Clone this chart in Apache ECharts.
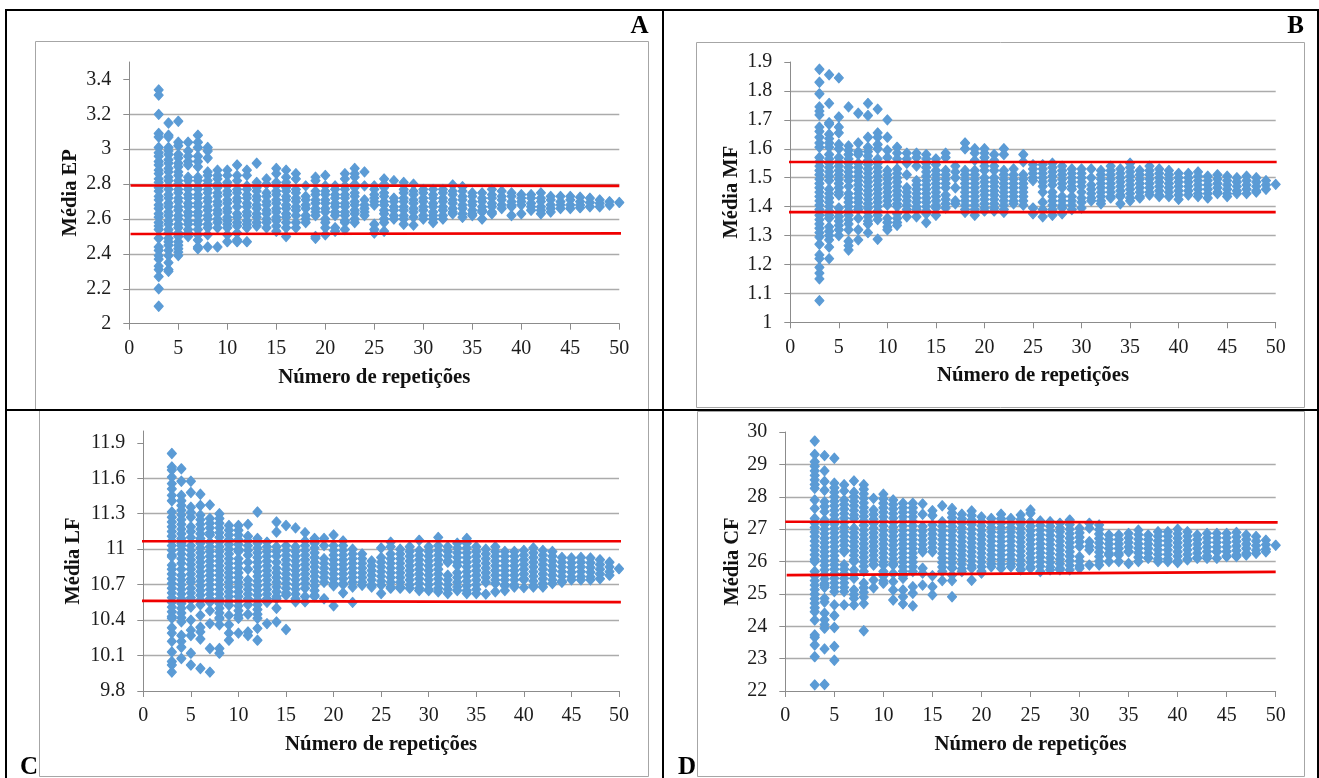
<!DOCTYPE html>
<html><head><meta charset="utf-8">
<script src="https://cdn.jsdelivr.net/npm/echarts@6/dist/echarts.min.js"></script>
<style>html,body{margin:0;padding:0;background:#fff}#c{width:1319px;height:778px}</style>
</head><body><div id="c"></div>
<script>
// Each row: repetition count, then the mean values read at that count.
const mediaEP = [
[3,3.34,3.31,3.2,3.09,3.07,3.01,2.98,2.96,2.93,2.91,2.88,2.86,2.83,2.81,2.78,2.76,2.73,2.71,2.68,2.66,2.63,2.61,2.58,2.56,2.54,2.49,2.44,2.42,2.39,2.37,2.33,2.31,2.27,2.2,2.1],
[4,3.15,3.08,3.07,3.01,2.99,2.97,2.94,2.92,2.89,2.87,2.84,2.82,2.79,2.77,2.74,2.72,2.69,2.67,2.64,2.62,2.59,2.57,2.54,2.52,2.49,2.47,2.45,2.42,2.39,2.35,2.31,2.3],
[5,3.16,3.04,3.02,2.97,2.95,2.92,2.9,2.87,2.85,2.82,2.8,2.77,2.75,2.72,2.7,2.67,2.65,2.62,2.6,2.57,2.55,2.52,2.5,2.47,2.45,2.43,2.41,2.39],
[6,3.04,2.99,2.96,2.93,2.91,2.84,2.82,2.79,2.77,2.74,2.72,2.69,2.67,2.64,2.62,2.59,2.57,2.54,2.52,2.5],
[7,3.08,3.04,3.01,2.96,2.93,2.9,2.84,2.82,2.79,2.77,2.74,2.72,2.69,2.67,2.64,2.62,2.59,2.57,2.54,2.51,2.48,2.44,2.43],
[8,3.01,2.99,2.95,2.87,2.85,2.82,2.8,2.77,2.75,2.72,2.7,2.67,2.65,2.62,2.6,2.57,2.55,2.51,2.44],
[9,2.88,2.85,2.83,2.8,2.78,2.75,2.73,2.7,2.68,2.65,2.63,2.6,2.58,2.55,2.44],
[10,2.88,2.85,2.81,2.79,2.76,2.74,2.71,2.69,2.66,2.64,2.61,2.59,2.57,2.55,2.51,2.47],
[11,2.91,2.85,2.82,2.77,2.75,2.72,2.7,2.67,2.63,2.61,2.58,2.56,2.52,2.48,2.47],
[12,2.88,2.85,2.79,2.77,2.74,2.72,2.69,2.67,2.64,2.62,2.59,2.57,2.55,2.47],
[13,2.92,2.81,2.78,2.76,2.73,2.71,2.68,2.66,2.63,2.61,2.58,2.56],
[14,2.83,2.8,2.75,2.73,2.7,2.68,2.65,2.63,2.6,2.58,2.55],
[15,2.89,2.86,2.81,2.79,2.76,2.74,2.71,2.69,2.66,2.64,2.61,2.59,2.56,2.53],
[16,2.88,2.84,2.81,2.78,2.76,2.73,2.71,2.68,2.66,2.63,2.61,2.58,2.55,2.5],
[17,2.86,2.83,2.77,2.75,2.72,2.7,2.67,2.65,2.62,2.58,2.55],
[18,2.79,2.73,2.71,2.68,2.66,2.62,2.6,2.58],
[19,2.84,2.82,2.76,2.74,2.71,2.69,2.66,2.64,2.62,2.5,2.49],
[20,2.85,2.79,2.76,2.74,2.71,2.69,2.66,2.64,2.6,2.58,2.55,2.51],
[21,2.79,2.77,2.74,2.72,2.69,2.67,2.64,2.62,2.55,2.53],
[22,2.86,2.83,2.79,2.77,2.74,2.72,2.69,2.67,2.64,2.62,2.59,2.58,2.54],
[23,2.89,2.86,2.84,2.8,2.78,2.75,2.73,2.7,2.68,2.65,2.63,2.6,2.58],
[24,2.87,2.79,2.71,2.68,2.66,2.64,2.62],
[25,2.79,2.77,2.74,2.72,2.7,2.68,2.57,2.54,2.52],
[26,2.83,2.8,2.78,2.75,2.73,2.7,2.68,2.65,2.63,2.6,2.58,2.53],
[27,2.82,2.72,2.7,2.67,2.65,2.62,2.6],
[28,2.81,2.77,2.75,2.72,2.7,2.67,2.65,2.62,2.6,2.57],
[29,2.8,2.76,2.74,2.71,2.69,2.66,2.64,2.61,2.565],
[30,2.77,2.75,2.72,2.7,2.67,2.65,2.62,2.6],
[31,2.77,2.74,2.72,2.69,2.67,2.64,2.62,2.6,2.58],
[32,2.77,2.75,2.72,2.7,2.67,2.65,2.62,2.6],
[33,2.795,2.76,2.74,2.71,2.69,2.66,2.64,2.63],
[34,2.785,2.76,2.73,2.71,2.68,2.66,2.63,2.61],
[35,2.75,2.73,2.7,2.68,2.65,2.63,2.62],
[36,2.75,2.72,2.7,2.67,2.65,2.64,2.6],
[37,2.77,2.74,2.72,2.69,2.67,2.64,2.63],
[38,2.76,2.73,2.71,2.68,2.66],
[39,2.75,2.73,2.7,2.68,2.67,2.62],
[40,2.74,2.72,2.7,2.68,2.63],
[41,2.74,2.72,2.69,2.67,2.65],
[42,2.75,2.72,2.7,2.67,2.65,2.63],
[43,2.73,2.71,2.68,2.66,2.64],
[44,2.73,2.7,2.68,2.66],
[45,2.73,2.71,2.68,2.66],
[46,2.725,2.7,2.68,2.665],
[47,2.72,2.695,2.67],
[48,2.71,2.69,2.67],
[49,2.7,2.68],
[50,2.695]];

const mediaMF = [
[3,1.875,1.83,1.79,1.745,1.73,1.717,1.675,1.66,1.64,1.62,1.605,1.57,1.555,1.54,1.525,1.51,1.495,1.48,1.465,1.45,1.435,1.42,1.405,1.39,1.37,1.355,1.34,1.325,1.31,1.295,1.27,1.233,1.22,1.19,1.17,1.15,1.075],
[4,1.856,1.757,1.69,1.685,1.65,1.635,1.62,1.605,1.58,1.565,1.55,1.535,1.52,1.505,1.49,1.46,1.445,1.43,1.415,1.4,1.385,1.37,1.36,1.33,1.315,1.3,1.285,1.26,1.22],
[5,1.845,1.71,1.675,1.655,1.615,1.6,1.57,1.555,1.54,1.525,1.51,1.495,1.48,1.465,1.45,1.44,1.395,1.38,1.365,1.35,1.335,1.32,1.3],
[6,1.745,1.61,1.595,1.58,1.565,1.55,1.535,1.52,1.505,1.49,1.47,1.445,1.43,1.415,1.4,1.385,1.37,1.355,1.34,1.32,1.28,1.265,1.25],
[7,1.723,1.62,1.59,1.58,1.55,1.535,1.52,1.505,1.49,1.475,1.46,1.445,1.43,1.415,1.4,1.39,1.36,1.32,1.285],
[8,1.757,1.715,1.64,1.605,1.59,1.575,1.56,1.545,1.53,1.515,1.5,1.485,1.47,1.455,1.44,1.425,1.41,1.395,1.38,1.365,1.35,1.34,1.31],
[9,1.737,1.655,1.64,1.615,1.6,1.565,1.55,1.535,1.52,1.505,1.49,1.475,1.46,1.445,1.43,1.415,1.4,1.385,1.37,1.355,1.287],
[10,1.7,1.64,1.595,1.57,1.525,1.51,1.495,1.48,1.465,1.45,1.435,1.42,1.405,1.36,1.345,1.33,1.32],
[11,1.605,1.585,1.565,1.53,1.515,1.5,1.485,1.47,1.455,1.44,1.425,1.41,1.4,1.375,1.36,1.345,1.335],
[12,1.585,1.565,1.55,1.51,1.465,1.45,1.435,1.42,1.405,1.39,1.365],
[13,1.585,1.57,1.54,1.49,1.475,1.46,1.445,1.43,1.415,1.4,1.39,1.365],
[14,1.58,1.565,1.55,1.535,1.52,1.505,1.49,1.475,1.46,1.445,1.43,1.415,1.4,1.385,1.375,1.345],
[15,1.565,1.545,1.525,1.51,1.495,1.48,1.465,1.45,1.435,1.42,1.405,1.395,1.37],
[16,1.585,1.57,1.525,1.51,1.495,1.48,1.465,1.44,1.425,1.41,1.395],
[17,1.54,1.52,1.5,1.465,1.42,1.41],
[18,1.62,1.6,1.525,1.51,1.495,1.48,1.465,1.45,1.435,1.42,1.405,1.39,1.38],
[19,1.6,1.585,1.56,1.525,1.51,1.495,1.48,1.465,1.45,1.435,1.42,1.405,1.39,1.37],
[20,1.6,1.585,1.57,1.555,1.54,1.525,1.5,1.485,1.47,1.455,1.44,1.425,1.41,1.395,1.385],
[21,1.58,1.56,1.54,1.525,1.5,1.485,1.47,1.455,1.44,1.425,1.41,1.395,1.385],
[22,1.6,1.58,1.525,1.51,1.495,1.48,1.465,1.45,1.435,1.42,1.405,1.39,1.38],
[23,1.53,1.51,1.495,1.48,1.465,1.45,1.435,1.42,1.41],
[24,1.58,1.555,1.51,1.495,1.48,1.465,1.45,1.435,1.42,1.405],
[25,1.545,1.53,1.515,1.5,1.49,1.395,1.375],
[26,1.545,1.53,1.515,1.5,1.485,1.47,1.45,1.415,1.39,1.365],
[27,1.55,1.535,1.52,1.505,1.49,1.475,1.45,1.435,1.42,1.405,1.39,1.37],
[28,1.54,1.525,1.51,1.495,1.48,1.465,1.435,1.42,1.405,1.395,1.375],
[29,1.53,1.515,1.5,1.485,1.47,1.46,1.435,1.42,1.405,1.39],
[30,1.53,1.515,1.5,1.485,1.47,1.45,1.43,1.415,1.395],
[31,1.53,1.5,1.475,1.46,1.445,1.43,1.42],
[32,1.525,1.51,1.495,1.48,1.465,1.45,1.435,1.42,1.41],
[33,1.54,1.525,1.51,1.495,1.48,1.465,1.45,1.435,1.43],
[34,1.53,1.515,1.5,1.485,1.47,1.455,1.44,1.435,1.41],
[35,1.55,1.535,1.52,1.505,1.49,1.475,1.46,1.445,1.43,1.42],
[36,1.525,1.51,1.495,1.48,1.465,1.45,1.435,1.43],
[37,1.54,1.525,1.51,1.495,1.48,1.465,1.45,1.44],
[38,1.53,1.515,1.5,1.485,1.47,1.455,1.44,1.435],
[39,1.525,1.51,1.495,1.48,1.465,1.45,1.435],
[40,1.515,1.5,1.485,1.47,1.455,1.44,1.425],
[41,1.515,1.5,1.485,1.47,1.455,1.44],
[42,1.52,1.505,1.49,1.475,1.46,1.445,1.435],
[43,1.505,1.49,1.475,1.46,1.445,1.43],
[44,1.51,1.495,1.48,1.465,1.45,1.445],
[45,1.505,1.49,1.475,1.46,1.445,1.435],
[46,1.5,1.485,1.47,1.455,1.445],
[47,1.505,1.49,1.475,1.46,1.445],
[48,1.5,1.485,1.47,1.455,1.45],
[49,1.49,1.475,1.46],
[50,1.477]];

const mediaLF = [
[3,11.81,11.695,11.67,11.61,11.555,11.51,11.455,11.41,11.315,11.27,11.23,11.19,11.15,11.11,11.07,11.03,10.99,10.95,10.935,10.865,10.83,10.79,10.75,10.71,10.67,10.63,10.59,10.55,10.51,10.47,10.43,10.415,10.335,10.29,10.22,10.13,10.05,10.02,9.96],
[4,11.68,11.575,11.455,11.41,11.37,11.33,11.29,11.25,11.21,11.17,11.13,11.09,11.05,11.03,11,10.96,10.92,10.88,10.83,10.78,10.74,10.7,10.66,10.62,10.58,10.54,10.5,10.46,10.42,10.385,10.27,10.22,10.17,10.075],
[5,11.575,11.48,11.355,11.31,11.27,11.19,11.15,11.1,11.03,10.99,10.95,10.91,10.87,10.83,10.79,10.75,10.72,10.67,10.63,10.59,10.57,10.51,10.4,10.315,10.27,10.12,10.02],
[6,11.465,11.37,11.29,11.25,11.21,11.17,11.13,11.09,11.05,11.01,10.97,10.93,10.89,10.85,10.81,10.77,10.73,10.69,10.65,10.61,10.57,10.53,10.44,10.34,10.3,10.24,9.99],
[7,11.375,11.26,11.22,11.18,11.14,11.12,11.06,11.02,10.98,10.94,10.9,10.86,10.82,10.78,10.74,10.7,10.66,10.62,10.58,10.55,10.48,10.37,10.16,9.96],
[8,11.3,11.26,11.22,11.18,11.14,11.1,11.06,11.02,10.98,10.94,10.9,10.86,10.82,10.78,10.74,10.7,10.66,10.62,10.58,10.54,10.5,10.46,10.42,10.41,10.36,10.16,10.12],
[9,11.2,11.16,11.12,11.08,11.04,11,10.96,10.92,10.88,10.84,10.8,10.76,10.72,10.68,10.64,10.6,10.56,10.525,10.44,10.36,10.29,10.23],
[10,11.2,11.16,11.12,11.08,11.04,11,10.98,10.92,10.88,10.84,10.8,10.76,10.72,10.68,10.64,10.6,10.56,10.52,10.48,10.44,10.415,10.29],
[11,11.21,11.11,11.07,11.03,10.99,10.95,10.89,10.83,10.74,10.7,10.66,10.62,10.58,10.53,10.45,10.3,10.27],
[12,11.315,11.09,11.05,11.01,10.97,10.93,10.89,10.85,10.81,10.77,10.73,10.69,10.65,10.61,10.57,10.53,10.49,10.45,10.415,10.33,10.23],
[13,11.06,11.02,10.98,10.94,10.9,10.86,10.82,10.78,10.74,10.7,10.66,10.62,10.58,10.55,10.37],
[14,11.23,11.145,11.02,10.98,10.94,10.89,10.84,10.8,10.76,10.72,10.68,10.64,10.6,10.58,10.5,10.385],
[15,11.2,11.03,10.99,10.95,10.91,10.87,10.83,10.79,10.75,10.71,10.67,10.63,10.61,10.32],
[16,11.18,11.02,10.98,10.94,10.9,10.86,10.82,10.78,10.74,10.7,10.66,10.62,10.58,10.555],
[17,11.14,11.07,11.03,10.99,10.95,10.91,10.87,10.83,10.79,10.75,10.71,10.67,10.6,10.555],
[18,11.09,11.05,11.01,10.97,10.93,10.89,10.85,10.81,10.77,10.73,10.69,10.65,10.61,10.6],
[19,11.09,11.03,10.92,10.88,10.84,10.8,10.76,10.72,10.58],
[20,11.12,11.03,10.99,10.95,10.91,10.87,10.83,10.79,10.75,10.71,10.69,10.52],
[21,11.07,11.03,10.99,10.95,10.91,10.87,10.83,10.79,10.75,10.71,10.7,10.63],
[22,11,10.96,10.92,10.88,10.84,10.8,10.76,10.72,10.68,10.55],
[23,10.96,10.92,10.88,10.84,10.8,10.76,10.72,10.695],
[24,10.9,10.86,10.82,10.78,10.74,10.7,10.68],
[25,11.01,10.93,10.89,10.85,10.81,10.77,10.73,10.695,10.625],
[26,11.06,11.02,10.96,10.92,10.88,10.84,10.8,10.76,10.72,10.68,10.67],
[27,11,10.96,10.92,10.88,10.84,10.8,10.76,10.72,10.68,10.67],
[28,11.02,10.98,10.94,10.9,10.86,10.82,10.78,10.74,10.7,10.67],
[29,11.075,10.99,10.95,10.91,10.87,10.83,10.79,10.75,10.71,10.67,10.65],
[30,11.02,10.98,10.94,10.9,10.86,10.82,10.78,10.74,10.7,10.66,10.65],
[31,11.1,11.03,10.99,10.95,10.91,10.87,10.83,10.79,10.75,10.71,10.67,10.64],
[32,11.02,10.98,10.94,10.9,10.89,10.78,10.74,10.7,10.66,10.625],
[33,11.05,11.01,10.97,10.93,10.89,10.86,10.8,10.76,10.72,10.68,10.65],
[34,11.09,11.05,11.01,10.97,10.93,10.89,10.85,10.81,10.77,10.73,10.69,10.65,10.625],
[35,11.02,10.98,10.94,10.9,10.86,10.82,10.78,10.74,10.7,10.66,10.625],
[36,11,10.96,10.92,10.88,10.84,10.8,10.76,10.72,10.62],
[37,11.02,10.98,10.94,10.9,10.86,10.82,10.78,10.74,10.71,10.64],
[38,10.98,10.94,10.9,10.86,10.82,10.78,10.74,10.7,10.69,10.65],
[39,10.98,10.94,10.9,10.86,10.82,10.78,10.74,10.7,10.68],
[40,10.99,10.95,10.91,10.87,10.83,10.79,10.75,10.74,10.675],
[41,11.01,10.97,10.93,10.89,10.85,10.81,10.77,10.73,10.69,10.68],
[42,10.99,10.95,10.91,10.87,10.83,10.79,10.75,10.71,10.68],
[43,10.98,10.94,10.9,10.86,10.82,10.78,10.74,10.71],
[44,10.93,10.89,10.85,10.81,10.77,10.73,10.72],
[45,10.925,10.885,10.845,10.805,10.765,10.74],
[46,10.93,10.89,10.85,10.81,10.77,10.74],
[47,10.925,10.885,10.845,10.805,10.765,10.74],
[48,10.91,10.87,10.83,10.79,10.75],
[49,10.89,10.85,10.81,10.78],
[50,10.835]];

const mediaCF = [
[3,29.72,29.31,29.08,28.94,28.8,28.66,28.52,28.38,28.26,27.9,27.64,27.33,27.19,27.05,26.91,26.77,26.63,26.49,26.35,26.21,26.07,26,25.69,25.55,25.41,25.27,25.13,24.99,24.85,24.71,24.57,24.45,24.19,23.73,23.66,23.42,23.06,22.19],
[4,29.27,28.8,28.47,28.2,27.85,27.7,27.54,27.28,27.14,27,26.86,26.72,26.58,26.44,26.3,26.16,26.02,25.88,25.74,25.6,25.46,25.32,25.27,25.2,24.86,24.75,24.4,24.2,24.05,23.94,23.3,22.2],
[5,29.19,28.42,28.28,28.14,28,27.86,27.72,27.58,27.44,27.3,27.16,27.02,26.88,26.74,26.6,26.46,26.32,26.18,26.04,25.9,25.76,25.62,25.48,25.34,25.2,25.07,24.66,24.33,23.96,23.38,22.95],
[6,28.37,28.18,27.9,27.76,27.62,27.48,27.34,27.2,27.06,26.92,26.78,26.64,26.5,26.36,26.3,25.9,25.76,25.62,25.48,25.34,25.2,25.07,24.66],
[7,28.49,28.14,28,27.86,27.72,27.58,27.44,27.33,27.03,26.89,26.75,26.61,26.47,26.33,26.19,26.05,26,25.74,25.6,25.48,25.12,24.98,24.86,24.66],
[8,28.37,28.23,28.09,27.95,27.81,27.67,27.53,27.39,27.25,27.11,26.97,26.83,26.69,26.55,26.41,26.27,26.13,25.99,25.85,25.69,25.33,25.19,25.05,24.9,24.7,23.86],
[9,27.95,27.59,27.45,27.31,27.17,27.03,26.89,26.75,26.61,26.47,26.33,26.19,26.05,25.91,25.89,25.43,25.19],
[10,28.08,27.94,27.8,27.66,27.52,27.38,27.24,27.1,26.96,26.82,26.68,26.54,26.4,26.26,26.12,25.98,25.89,25.69,25.55,25.41,25.33],
[11,27.9,27.76,27.62,27.48,27.34,27.2,27.06,26.92,26.78,26.64,26.5,26.36,26.22,26.08,25.94,25.89,25.63,25.38,25.12,24.81],
[12,27.8,27.66,27.52,27.38,27.24,27.1,26.96,26.82,26.68,26.54,26.4,26.26,26.12,25.98,25.84,25.7,25.56,25.48,25.12,24.91,24.69],
[13,27.8,27.66,27.52,27.38,27.24,27.1,26.96,26.82,26.68,26.54,26.4,26.26,26.12,25.98,25.84,25.69,25.22,25.02,24.63],
[14,27.78,27.46,27.08,26.94,26.8,26.66,26.52,26.38,26.3,25.79,25.64,25.27],
[15,27.57,27.42,27.13,26.99,26.85,26.71,26.57,26.43,26.3,25.56,25.22,24.97],
[16,27.72,27.23,27.09,26.95,26.81,26.67,26.53,26.39,26.25,26.11,25.97,25.83,25.69,25.41],
[17,27.64,27.5,27.36,27.22,27.08,26.94,26.8,26.66,26.52,26.38,26.24,26.1,25.96,25.82,25.79,25.58,25.41,24.91],
[18,27.46,27.32,27.18,27.04,26.9,26.76,26.62,26.48,26.34,26.2,26.06,25.92,25.78,25.69],
[19,27.56,27.42,27.28,27.14,27,26.86,26.72,26.58,26.44,26.3,26.16,26.02,25.88,25.79,25.42],
[20,27.38,27.24,27.1,26.96,26.82,26.68,26.54,26.4,26.26,26.12,25.98,25.84,25.7,25.64],
[21,27.33,27.19,27.05,26.91,26.77,26.63,26.49,26.35,26.21,26.07,25.93,25.84],
[22,27.46,27.32,27.18,27.04,26.9,26.76,26.62,26.48,26.34,26.2,26.06,25.92,25.79],
[23,27.33,27.19,27.05,26.91,26.77,26.63,26.49,26.35,26.21,26.07,25.93,25.84],
[24,27.44,27.3,27.16,27.02,26.88,26.74,26.6,26.46,26.32,26.18,26.04,25.9,25.76,25.74],
[25,27.59,27.49,27.23,27.09,26.95,26.81,26.67,26.53,26.39,26.25,26.11,25.97,25.83,25.79],
[26,27.25,27.11,26.97,26.83,26.69,26.55,26.41,26.27,26.13,25.99,25.85,25.69],
[27,27.23,27.09,26.95,26.81,26.67,26.53,26.39,26.25,26.11,25.97,25.83,25.74],
[28,27.18,27.04,26.92,26.77,26.63,26.49,26.35,26.21,26.07,25.93,25.79,25.74],
[29,27.28,27.14,27,26.86,26.72,26.58,26.44,26.3,26.16,26.02,25.88,25.74],
[30,27.03,26.89,26.75,26.61,26.46,26.15,26.01,25.87,25.79],
[31,27.18,27.03,26.61,26.47,26.36,25.89],
[32,27.13,26.99,26.85,26.71,26.57,26.43,26.29,26.15,26.01,25.89],
[33,26.82,26.68,26.54,26.4,26.26,26.2,26],
[34,26.82,26.68,26.54,26.4,26.26,26.2,26],
[35,26.87,26.73,26.59,26.45,26.31,26.3,25.94],
[36,26.97,26.83,26.69,26.55,26.41,26.27,26.13,26],
[37,26.82,26.68,26.54,26.4,26.26,26.12,26.1],
[38,26.92,26.78,26.64,26.5,26.36,26.22,26.08,26],
[39,26.92,26.78,26.64,26.5,26.36,26.22,26.08,26],
[40,27,26.86,26.72,26.58,26.44,26.3,26.16,26.02,25.97],
[41,26.92,26.78,26.64,26.5,26.36,26.22,26.08,26.05],
[42,26.82,26.68,26.54,26.4,26.26,26.12,26.1],
[43,26.87,26.73,26.59,26.45,26.31,26.17,26.1],
[44,26.87,26.73,26.59,26.45,26.31,26.3,26.1],
[45,26.87,26.73,26.59,26.45,26.31,26.17,26.15],
[46,26.9,26.76,26.62,26.48,26.34,26.2,26.15],
[47,26.82,26.68,26.54,26.4,26.26,26.2],
[48,26.77,26.63,26.49,26.35,26.25],
[49,26.66,26.52,26.38,26.3],
[50,26.5]];

// Red limit lines: [x, value] end points.
const epUpper = [[0.13,2.792],[50,2.79]];
const epLower = [[0.13,2.514],[50.5,2.518]];
const mfUpper = [[-0.23,1.554],[50.1,1.554]];
const mfLower = [[-0.23,1.381],[50,1.381]];
const lfUpper = [[-0.17,11.067],[50.3,11.067]];
const lfLower = [[-0.5,10.563],[50.2,10.552]];
const cfUpper = [[0,27.23],[50.2,27.21]];
const cfLower = [[0.14,25.58],[50,25.68]];

const xTicks = [0,5,10,15,20,25,30,35,40,45,50];
const epTicks = [2,2.2,2.4,2.6,2.8,3,3.2,3.4];
const mfTicks = [1,1.1,1.2,1.3,1.4,1.5,1.6,1.7,1.8,1.9];
const lfTicks = [9.8,10.1,10.4,10.7,11,11.3,11.6,11.9];
const cfTicks = [22,23,24,25,26,27,28,29,30];

const FONT = '"Liberation Serif","Times New Roman",serif';
const BLUE = '#5B9BD5', GRID = '#ababab', AXIS = '#8c8c8c', INK = '#1c1c1c';

const panels = [
 {rows:mediaEP,up:epUpper,lo:epLower,ticks:epTicks,min:2,max:3.5,iv:0.2,name:'Média EP',gap:48,
  l:129.3,r:619.3,t:62,b:323.7},
 {rows:mediaMF,up:mfUpper,lo:mfLower,ticks:mfTicks,min:1,max:1.9,iv:0.1,name:'Média MF',gap:48,
  l:790.3,r:1275.7,t:62,b:322.3},
 {rows:mediaLF,up:lfUpper,lo:lfLower,ticks:lfTicks,min:9.8,max:12,iv:0.3,name:'Média LF',gap:59,
  l:143.3,r:619,t:431,b:691},
 {rows:mediaCF,up:cfUpper,lo:cfLower,ticks:cfTicks,min:22,max:30,iv:1,name:'Média CF',gap:42,
  l:785.3,r:1275.7,t:432,b:691}
];

const grid=[],xAxis=[],yAxis=[],series=[];
panels.forEach((p,i)=>{
  grid.push({left:p.l,top:p.t,width:p.r-p.l,height:p.b-p.t,containLabel:false});
  xAxis.push({type:'value',gridIndex:i,min:0,max:50,interval:5,
    name:'Número de repetições',nameLocation:'middle',nameGap:43,
    nameTextStyle:{fontFamily:FONT,fontWeight:'bold',fontSize:20.8,color:'#111'},
    axisLine:{show:true,onZero:false,lineStyle:{color:AXIS,width:1}},
    axisTick:{show:true,length:6,lineStyle:{color:AXIS,width:1}},
    splitLine:{show:false},
    axisLabel:{fontFamily:FONT,fontSize:20,color:INK,margin:15,customValues:xTicks}});
  yAxis.push({type:'value',gridIndex:i,min:p.min,max:p.max,interval:p.iv,
    name:p.name,nameLocation:'middle',nameGap:p.gap,nameRotate:90,
    nameTextStyle:{fontFamily:FONT,fontWeight:'bold',fontSize:20.5,color:'#111'},
    axisLine:{show:true,onZero:false,lineStyle:{color:AXIS,width:1}},
    axisTick:{show:true,length:6,customValues:p.ticks,lineStyle:{color:AXIS,width:1}},
    splitLine:{show:true,showMinLine:false,showMaxLine:false,lineStyle:{color:GRID,width:1.3}},
    axisLabel:{fontFamily:FONT,fontSize:20,color:INK,margin:18,customValues:p.ticks}});
  series.push({type:'scatter',xAxisIndex:i,yAxisIndex:i,symbol:'diamond',symbolSize:[9,10],
    itemStyle:{color:BLUE,opacity:1,borderColor:BLUE,borderWidth:1.2,borderJoin:'round'},silent:true,clip:false,z:3,
    data:p.rows.flatMap(r=>r.slice(1).map(v=>[r[0],v]))});
  [p.up,p.lo].forEach(line=>series.push({type:'line',xAxisIndex:i,yAxisIndex:i,data:line,
    symbol:'none',clip:false,silent:true,z:4,lineStyle:{color:'#f00000',width:2.6}}));
});

const frame=(x,y,w,h)=>({type:'rect',silent:true,z:0,shape:{x:x+.5,y:y+.5,width:w,height:h},
  style:{fill:'#fff',stroke:'#a6a6a6',lineWidth:1}});
const blk=(x1,y1,x2,y2)=>({type:'line',silent:true,z:1,shape:{x1,y1,x2,y2},style:{stroke:'#000',lineWidth:2}});
const tag=(t,x,y,a)=>({type:'text',silent:true,z:2,x,y,style:{text:t,font:'bold 25px '+FONT,fill:'#000',textAlign:a,textVerticalAlign:'middle'}});

const graphic=[
  frame(35,41,613,368),frame(696,42,608,365),frame(39,410,609,366),frame(697,411,607,365),
  blk(5,10,1319,10),blk(6,9,6,778),blk(663,9,663,778),blk(5,410,1319,410),blk(1318,9,1318,778),
  tag('A',648.5,27,'right'),tag('B',1304,27,'right'),tag('C',20,768,'left'),tag('D',678,768,'left')
];

const chart=echarts.init(document.getElementById('c'),null,{renderer:'canvas'});
chart.setOption({animation:false,backgroundColor:'#fff',grid,xAxis,yAxis,series,graphic:{elements:graphic}});
</script>
</body></html>
